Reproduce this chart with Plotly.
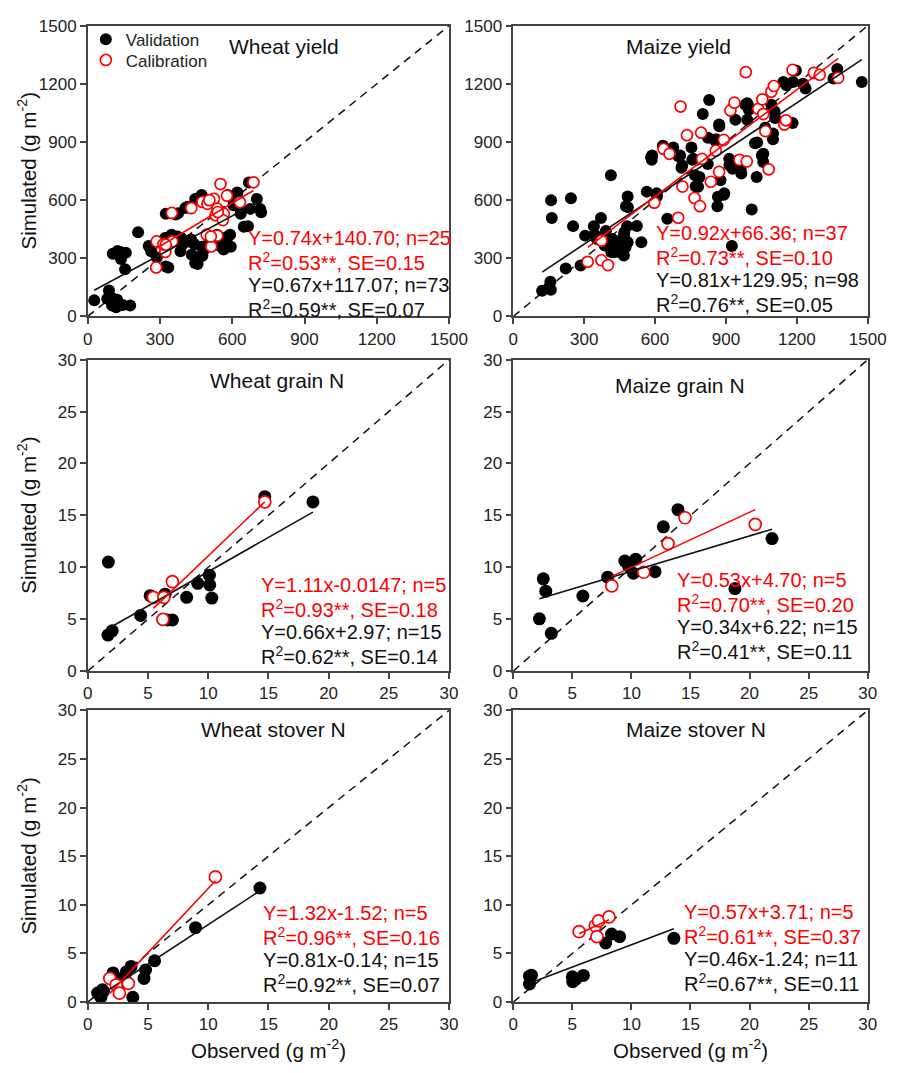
import plotly.graph_objects as go

W, H = 913, 1073

# ---------------- data ----------------
panel_titles = ["Wheat yield", "Maize yield", "Wheat grain N", "Maize grain N",
                "Wheat stover N", "Maize stover N"]
yield_ticks = [0, 300, 600, 900, 1200, 1500]
n_ticks = [0, 5, 10, 15, 20, 25, 30]

# Wheat yield
wy_val_x = [27, 88, 81, 104, 122, 118, 145, 176, 101, 104, 124, 135, 158, 138, 155, 209, 253, 263, 287, 324,
            334, 324, 365, 375, 321, 348, 372, 388, 392, 385, 318, 405, 415, 429, 443, 419, 432, 446, 456, 466,
            476, 473, 483, 446, 456, 473, 500, 503, 524, 540, 537, 551, 564, 567, 578, 581, 591, 594, 561, 581,
            601, 618, 621, 605, 632, 635, 648, 665, 669, 675, 702, 716, 720]
wy_val_y = [83, 134, 91, 93, 86, 47, 59, 57, 57, 324, 338, 333, 329, 296, 243, 434, 363, 336, 304, 258,
            253, 530, 526, 532, 405, 422, 412, 405, 370, 336, 378, 559, 566, 397, 372, 387, 318, 276, 270, 309,
            313, 360, 346, 606, 608, 627, 370, 405, 388, 387, 422, 363, 346, 387, 405, 412, 422, 360, 353, 627,
            606, 625, 640, 574, 557, 530, 463, 465, 691, 555, 606, 555, 537]
wy_cal_x = [284, 286, 322, 314, 351, 349, 430, 476, 497, 524, 538, 531, 565, 561, 551, 578, 632, 688, 494,
            538, 513, 511, 540, 324, 505]
wy_cal_y = [253, 387, 333, 372, 387, 534, 559, 591, 581, 607, 556, 522, 530, 497, 683, 623, 589, 692, 422,
            417, 361, 412, 539, 370, 600]

# Maize yield
my_val_x = [122, 150, 157, 159, 160, 163, 244, 253, 222, 285, 304, 341, 344, 353, 371, 387, 392, 399, 413, 415,
            420, 427, 429, 440, 449, 468, 470, 468, 475, 477, 485, 484, 482, 484, 523, 542, 565, 583, 586, 588,
            607, 608, 633, 652, 677, 699, 706, 712, 715, 754, 758, 762, 769, 772, 782, 788, 802, 823, 829, 824,
            855, 859, 864, 866, 871, 872, 877, 891, 893, 914, 915, 925, 928, 940, 947, 962, 965, 982, 990, 996,
            997, 990, 1009, 1023, 1030, 1032, 1052, 1058, 1058, 1066, 1092, 1099, 1099, 1106, 1108, 1143, 1156,
            1182, 1184, 1196, 1226, 1237, 1355, 1371, 1475]
my_val_y = [133, 148, 179, 138, 599, 508, 610, 466, 247, 263, 417, 466, 424, 400, 508, 366, 441, 365, 728, 332,
            399, 331, 391, 378, 332, 416, 434, 314, 357, 569, 564, 619, 466, 383, 467, 383, 644, 822, 808, 830,
            635, 619, 881, 504, 872, 826, 830, 767, 779, 872, 808, 813, 728, 670, 669, 720, 1044, 787, 1117, 922,
            907, 914, 569, 618, 990, 981, 703, 628, 635, 813, 780, 363, 762, 1015, 796, 762, 737, 1092, 1100, 1083,
            1066, 1015, 552, 894, 720, 897, 830, 839, 797, 973, 1092, 944, 914, 1058, 1024, 1210, 1193,
            998, 1210, 1269, 1201, 1176, 1228, 1277, 1210]
my_cal_x = [315, 373, 401, 373, 597, 636, 661, 698, 708, 716, 735, 767, 790, 795, 799, 836, 857, 871, 891, 919,
            936, 957, 984, 988, 1037, 1054, 1058, 1067, 1081, 1092, 1103, 1147, 1154, 1182, 1272, 1297, 1375]
my_cal_y = [282, 290, 265, 391, 587, 864, 839, 509, 1083, 670, 935, 611, 569, 948, 813, 695, 855, 746, 911, 1063,
            1103, 808, 1260, 800, 1071, 1120, 1044, 956, 759, 1159, 1189, 990, 1012, 1272, 1257, 1247, 1231]

# Wheat grain N
wg_val_x = [1.68, 2.03, 1.71, 4.39, 5.18, 6.42, 7.03, 6.63, 8.21, 9.13, 10.1, 10.13, 10.3, 14.7, 18.7]
wg_val_y = [3.47, 3.88, 10.5, 5.36, 7.26, 7.41, 4.92, 4.92, 7.10, 8.45, 9.24, 8.30, 7.03, 16.8, 16.3]
wg_cal_x = [5.45, 6.32, 7.03, 6.24, 14.7]
wg_cal_y = [7.10, 7.10, 8.61, 4.98, 16.3]

# Maize grain N
mg_val_x = [2.21, 2.54, 2.75, 3.22, 5.89, 7.99, 9.44, 10.17, 10.36, 9.76, 12.0, 12.7, 13.94, 18.76, 21.9]
mg_val_y = [5.03, 8.89, 7.70, 3.64, 7.23, 9.05, 10.6, 9.43, 10.78, 10.1, 9.58, 13.9, 15.55, 7.95, 12.76]
mg_cal_x = [8.34, 11.04, 13.1, 14.54, 20.48]
mg_cal_y = [8.2, 9.52, 12.28, 14.77, 14.14]

# Wheat stover N
ws_val_x = [0.82, 1.09, 1.22, 1.30, 2.10, 2.80, 2.95, 3.20, 3.60, 3.74, 4.67, 4.80, 5.55, 8.95, 14.3]
ws_val_y = [0.93, 0.50, 1.27, 1.10, 3.00, 1.93, 2.50, 3.10, 3.67, 0.50, 2.43, 3.30, 4.25, 7.65, 11.73]
ws_cal_x = [1.83, 2.36, 2.63, 3.37, 10.6]
ws_cal_y = [2.43, 1.77, 0.93, 1.93, 12.87]

# Maize stover N
ms_val_x = [1.37, 1.54, 1.37, 5.0, 5.03, 5.3, 5.93, 7.82, 8.32, 9.0, 13.59]
ms_val_y = [2.67, 2.77, 1.86, 2.6, 2.1, 2.37, 2.74, 6.09, 7.0, 6.73, 6.56]
ms_cal_x = [5.57, 6.94, 7.22, 7.08, 8.1]
ms_cal_y = [7.24, 7.85, 8.35, 6.73, 8.76]

# drawn regression lines (slope, intercept)
fit_val = [(0.67, 117.07), (0.81, 129.95), (0.66, 2.97), (0.34, 6.22), (0.81, -0.14), (0.46, 1.30)]
fit_cal = [(0.74, 140.70), (0.92, 66.36), (1.11, -0.0147), (0.53, 4.70), (1.32, -1.52), (0.57, 3.85)]

cal_labels = [
    ("Y=0.74x+140.70; n=25", "R<sup>2</sup>=0.53**, SE=0.15"),
    ("Y=0.92x+66.36; n=37", "R<sup>2</sup>=0.73**, SE=0.10"),
    ("Y=1.11x-0.0147; n=5", "R<sup>2</sup>=0.93**, SE=0.18"),
    ("Y=0.53x+4.70; n=5", "R<sup>2</sup>=0.70**, SE=0.20"),
    ("Y=1.32x-1.52; n=5", "R<sup>2</sup>=0.96**, SE=0.16"),
    ("Y=0.57x+3.71; n=5", "R<sup>2</sup>=0.61**, SE=0.37"),
]
val_labels = [
    ("Y=0.67x+117.07; n=73", "R<sup>2</sup>=0.59**, SE=0.07"),
    ("Y=0.81x+129.95; n=98", "R<sup>2</sup>=0.76**, SE=0.05"),
    ("Y=0.66x+2.97; n=15", "R<sup>2</sup>=0.62**, SE=0.14"),
    ("Y=0.34x+6.22; n=15", "R<sup>2</sup>=0.41**, SE=0.11"),
    ("Y=0.81x-0.14; n=15", "R<sup>2</sup>=0.92**, SE=0.07"),
    ("Y=0.46x-1.24; n=11", "R<sup>2</sup>=0.67**, SE=0.11"),
]

val_x = [wy_val_x, my_val_x, wg_val_x, mg_val_x, ws_val_x, ms_val_x]
val_y = [wy_val_y, my_val_y, wg_val_y, mg_val_y, ws_val_y, ms_val_y]
cal_x = [wy_cal_x, my_cal_x, wg_cal_x, mg_cal_x, ws_cal_x, ms_cal_x]
cal_y = [wy_cal_y, my_cal_y, wg_cal_y, mg_cal_y, ws_cal_y, ms_cal_y]
ticks = [yield_ticks, yield_ticks, n_ticks, n_ticks, n_ticks, n_ticks]

# ---------------- layout geometry (pixels) ----------------
col_px = [(85, 456), (522, 886)]
row_px = [(17, 313), (357, 674), (714, 1011)]
text_px = [(247, 233), (667, 228), (261, 586), (688, 581), (263, 920), (695, 919)]
title_px = [(287, 38), (692, 38), (279, 378), (693, 383), (276, 733), (710, 733)]
line_gap = 24

FONT = "Liberation Sans, Arial, sans-serif"
RED = "#ff0000"
BLK = "#111111"
AXC = "#444444"


def px_x(p):
    return p / W


def px_y(p):
    return 1 - p / H


fig = go.Figure()
leg_common = dict(xanchor="left", yanchor="top", bgcolor="rgba(0,0,0,0)",
                  font=dict(size=17, color="#222", family=FONT), itemwidth=30)
layout = dict(
    width=W, height=H, margin=dict(l=0, r=0, t=0, b=0),
    paper_bgcolor="white", plot_bgcolor="white",
    font=dict(family=FONT, size=16, color="#222"),
    showlegend=True,
    legend=dict(leg_common, x=px_x(83), y=px_y(13)),
    legend2=dict(leg_common, x=px_x(83), y=px_y(34)),
)
annotations = []

for i in range(6):
    r, c = divmod(i, 2)
    xa = "x" if i == 0 else f"x{i+1}"
    ya = "y" if i == 0 else f"y{i+1}"
    tk = ticks[i]
    top = tk[-1]
    big = i < 2
    msz_v = 12 if big else 13
    msz_c = 11 if big else 12

    # 1:1 line
    fig.add_trace(go.Scatter(x=[tk[0], top], y=[tk[0], top], mode="lines", xaxis=xa, yaxis=ya,
                             line=dict(color=BLK, width=1.5, dash="8px,6px"), showlegend=False,
                             hoverinfo="skip"))
    fig.add_trace(go.Scatter(x=val_x[i], y=val_y[i], mode="markers", xaxis=xa, yaxis=ya,
                             marker=dict(color="black", size=msz_v, line=dict(width=0)),
                             name="Validation", showlegend=(i == 0), legend="legend"))
    fig.add_trace(go.Scatter(x=cal_x[i], y=cal_y[i], mode="markers", xaxis=xa, yaxis=ya,
                             marker=dict(color="white", size=msz_c, line=dict(color=RED, width=1.7)),
                             name="Calibration", showlegend=(i == 0), legend="legend2"))
    # regression lines over the data span
    a, b = fit_val[i]
    x0, x1 = min(val_x[i]), max(val_x[i])
    fig.add_trace(go.Scatter(x=[x0, x1], y=[a * x0 + b, a * x1 + b], mode="lines", xaxis=xa, yaxis=ya,
                             line=dict(color=BLK, width=1.6), showlegend=False, hoverinfo="skip"))
    a, b = fit_cal[i]
    x0, x1 = min(cal_x[i]), max(cal_x[i])
    fig.add_trace(go.Scatter(x=[x0, x1], y=[a * x0 + b, a * x1 + b], mode="lines", xaxis=xa, yaxis=ya,
                             line=dict(color=RED, width=1.6), showlegend=False, hoverinfo="skip"))

    axis_common = dict(showgrid=False, zeroline=False, showline=True, linecolor=AXC, linewidth=1.5,
                       mirror=True, ticks="outside", ticklen=6, tickwidth=1.5, tickcolor=AXC,
                       tickfont=dict(size=17, color="#222", family=FONT),
                       tickvals=tk, ticktext=[str(v) for v in tk], range=[tk[0], top])
    layout["xaxis" if i == 0 else f"xaxis{i+1}"] = dict(
        axis_common, domain=[px_x(col_px[c][0]), px_x(col_px[c][1])], anchor=ya)
    layout["yaxis" if i == 0 else f"yaxis{i+1}"] = dict(
        axis_common, domain=[px_y(row_px[r][1]), px_y(row_px[r][0])], anchor=xa)

    # title
    tx, ty = title_px[i]
    annotations.append(dict(x=px_x(tx), y=px_y(ty), xref="paper", yref="paper", text=panel_titles[i],
                            showarrow=False, xanchor="center", yanchor="middle",
                            font=dict(size=21, color="#111", family=FONT)))
    # equations
    lx, ly = text_px[i]
    lines = [(cal_labels[i][0], RED), (cal_labels[i][1], RED),
             (val_labels[i][0], "#111"), (val_labels[i][1], "#111")]
    for k, (txt, col) in enumerate(lines):
        annotations.append(dict(x=px_x(lx), y=px_y(ly + k * line_gap), xref="paper", yref="paper",
                                text=txt, showarrow=False, xanchor="left", yanchor="middle",
                                font=dict(size=20, color=col, family=FONT)))

# axis titles
for r in range(3):
    yc = (row_px[r][0] + row_px[r][1]) / 2
    annotations.append(dict(x=px_x(23), y=px_y(yc), xref="paper", yref="paper",
                            text="Simulated (g m<sup>-2</sup>)", textangle=-90, showarrow=False,
                            xanchor="center", yanchor="middle", font=dict(size=20.5, color="#111", family=FONT)))
for c in range(2):
    xc = (col_px[c][0] + col_px[c][1]) / 2
    annotations.append(dict(x=px_x(xc), y=px_y(1059), xref="paper", yref="paper",
                            text="Observed (g m<sup>-2</sup>)", showarrow=False,
                            xanchor="center", yanchor="middle", font=dict(size=20.5, color="#111", family=FONT)))

layout["annotations"] = annotations
fig.update_layout(**layout)
fig.write_html("out.html")
